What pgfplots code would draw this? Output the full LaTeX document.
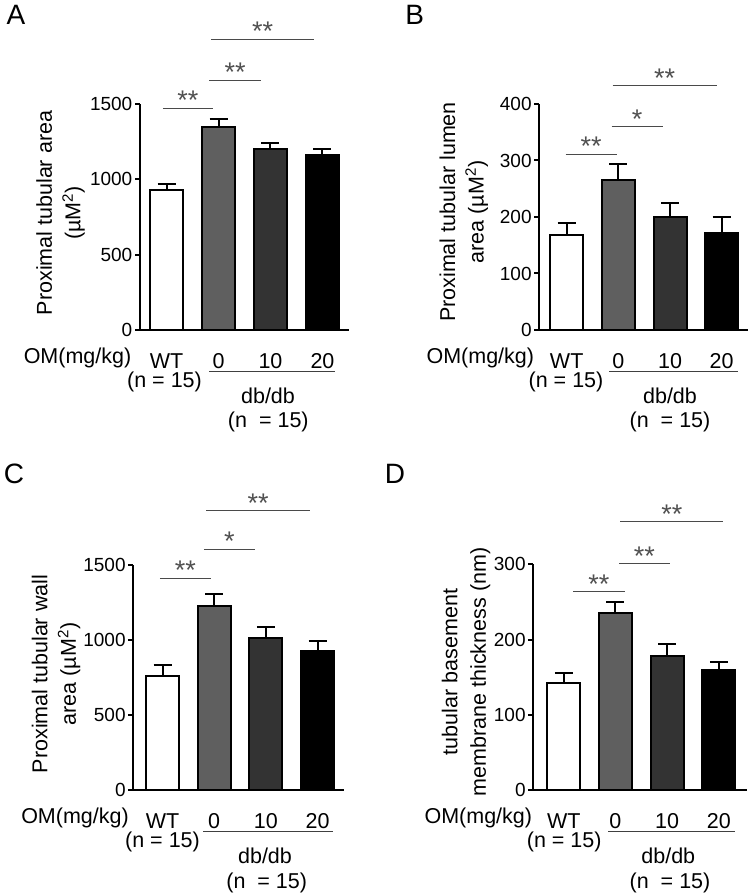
\documentclass[border=0pt]{standalone}
\usepackage{fontspec}
\setmainfont{Liberation Sans}
\usepackage{pgfplots}
\pgfplotsset{compat=1.18}
\definecolor{gzero}{HTML}{5F5F5F}
\definecolor{gten}{HTML}{333333}
\definecolor{sigline}{HTML}{4A4A4A}
\definecolor{sigstar}{HTML}{505050}
\newcommand\lab{\fontsize{21.5}{28.5}\selectfont}
\newcommand\tck{\fontsize{19}{21}\selectfont}
\newcommand\pnl{\fontsize{28}{30}\selectfont}
\newcommand\stf{\fontsize{27}{30}\selectfont}
\pgfplotsset{
  panel/.style={
    scale only axis, anchor=south west, clip=false,
    axis lines*=left, axis line style={line width=2.2pt, black},
    tick align=outside, major tick length=5pt,
    ytick style={line width=2pt, black},
    xtick={0,1,2,3}, xticklabels={WT,0,10,20},
    xtick style={draw=none},
    xticklabel style={font=\lab, anchor=base, inner sep=0pt, yshift=-33.5pt},
    yticklabel style={font=\tck, inner sep=0pt, anchor=east, xshift=-2.5pt},
    /pgf/number format/assume math mode=true,
    /pgf/number format/1000 sep={},
    ymin=0,
  },
  bar/.style={ybar, bar width=33pt, bar shift=0pt, draw=black, line width=2pt, fill=#1,
    error bars/.cd, y dir=plus, y explicit,
    error bar style={line width=2pt, black},
    error mark options={rotate=90, line width=2pt, mark size=9pt, black}},
}
\tikzset{
  sig/.style={draw=sigline, line width=1pt},
  star/.style={anchor=base, font=\stf, text=sigstar, inner sep=0pt, yshift=-1.5pt},
}
\begin{document}
\begin{tikzpicture}
\useasboundingbox (0pt,0pt) rectangle (753pt,896pt);
% ---------------- A
\begin{axis}[panel, at={(140pt,566pt)}, width=209pt, height=226pt,
  xmin=-0.51, xmax=3.51, ymax=1500, ytick={0,500,1000,1500}]
\addplot[bar=white] coordinates {(0,927) +- (0,40)};
\addplot[bar=gzero] coordinates {(1,1350) +- (0,50)};
\addplot[bar=gten] coordinates {(2,1199) +- (0,44)};
\addplot[bar=black] coordinates {(3,1163) +- (0,38)};
\draw[sig] (axis cs:-0.07,1473) -- (axis cs:0.89,1473) node[star, pos=0.5] {**};
\draw[sig] (axis cs:0.82,1659) -- (axis cs:1.82,1659) node[star, pos=0.5] {**};
\draw[sig] (axis cs:0.86,1931) -- (axis cs:2.84,1931) node[star, pos=0.5] {**};
\end{axis}
% ---------------- B
\begin{axis}[panel, at={(539.3pt,566pt)}, width=208.7pt, height=226pt,
  xmin=-0.53, xmax=3.51, ymax=400, ytick={0,100,200,300,400}]
\addplot[bar=white] coordinates {(0,168) +- (0,22)};
\addplot[bar=gzero] coordinates {(1,265) +- (0,28)};
\addplot[bar=gten] coordinates {(2,200) +- (0,24)};
\addplot[bar=black] coordinates {(3,172) +- (0,28)};
\draw[sig] (axis cs:-0.02,311) -- (axis cs:0.97,311) node[star, pos=0.5] {**};
\draw[sig] (axis cs:0.87,360) -- (axis cs:1.86,360) node[star, pos=0.5] {*};
\draw[sig] (axis cs:0.89,432) -- (axis cs:2.90,432) node[star, pos=0.5] {**};
\end{axis}
% ---------------- C
\begin{axis}[panel, at={(133.3pt,106pt)}, width=210.7pt, height=225pt,
  xmin=-0.565, xmax=3.51, ymax=1500, ytick={0,500,1000,1500}]
\addplot[bar=white] coordinates {(0,762) +- (0,69)};
\addplot[bar=gzero] coordinates {(1,1224) +- (0,80)};
\addplot[bar=gten] coordinates {(2,1011) +- (0,78)};
\addplot[bar=black] coordinates {(3,924) +- (0,72)};
\draw[sig] (axis cs:-0.05,1411) -- (axis cs:0.93,1411) node[star, pos=0.5] {**};
\draw[sig] (axis cs:0.80,1604) -- (axis cs:1.79,1604) node[star, pos=0.5] {*};
\draw[sig] (axis cs:0.85,1862) -- (axis cs:2.85,1862) node[star, pos=0.5] {**};
\end{axis}
% ---------------- D
\begin{axis}[panel, at={(533.3pt,106pt)}, width=213.4pt, height=225.7pt,
  xmin=-0.59, xmax=3.54, ymax=300, ytick={0,100,200,300}]
\addplot[bar=white] coordinates {(0,142) +- (0,13)};
\addplot[bar=gzero] coordinates {(1,235) +- (0,15)};
\addplot[bar=gten] coordinates {(2,178) +- (0,16)};
\addplot[bar=black] coordinates {(3,159) +- (0,11)};
\draw[sig] (axis cs:0.18,263.6) -- (axis cs:1.18,263.6) node[star, pos=0.5] {**};
\draw[sig] (axis cs:1.07,301) -- (axis cs:2.05,301) node[star, pos=0.5] {**};
\draw[sig] (axis cs:1.09,356.7) -- (axis cs:3.09,356.7) node[star, pos=0.5] {**};
\end{axis}
% ---------------- text (pixel coordinates, y downward)
\begin{scope}[x=1pt, y=-1pt, shift={(0pt,896pt)}]
\node[font=\pnl, inner sep=0pt] at (16,15) {A};
\node[font=\pnl, inner sep=0pt] at (414.7,15) {B};
\node[font=\pnl, inner sep=0pt] at (14,474) {C};
\node[font=\pnl, inner sep=0pt] at (395,474) {D};
\node[rotate=90, align=center, font=\lab] at (60.5,213) {Proximal tubular area\\(µM\textsuperscript{2})};
\node[rotate=90, align=center, font=\lab] at (463.7,212) {Proximal tubular lumen\\area (µM\textsuperscript{2})};
\node[rotate=90, align=center, font=\lab] at (56,674) {Proximal tubular wall\\area (µM\textsuperscript{2})};
\node[rotate=90, align=center, font=\lab] at (466,672) {tubular basement\\membrane thickness (nm)};
\foreach \ox/\oy/\om/\nw/\la/\lb/\db/\nn in {0/0/77.5/164.5/209/335/268/268.3, 380/0/480.3/566/609/737.7/670/670, 0/460/75/162.5/203.3/333.3/265/266.7, 380/460/478.3/564.2/608.3/735/668.3/670}{
  \node[font=\lab, anchor=base, inner sep=0pt] at (\om,363.5+\oy) {OM(mg/kg)};
  \node[font=\lab, anchor=base, inner sep=0pt] at (\nw,388+\oy) {(n = 15)};
  \draw[black!75, line width=1pt] (\la,372+\oy) -- (\lb,372+\oy);
  \node[font=\lab, anchor=base, inner sep=0pt] at (\db,403.3+\oy) {db/db};
  \node[font=\lab, anchor=base, inner sep=0pt] at (\nn,428+\oy) {(n\ \ = 15)};
}
\end{scope}
\end{tikzpicture}
\end{document}
